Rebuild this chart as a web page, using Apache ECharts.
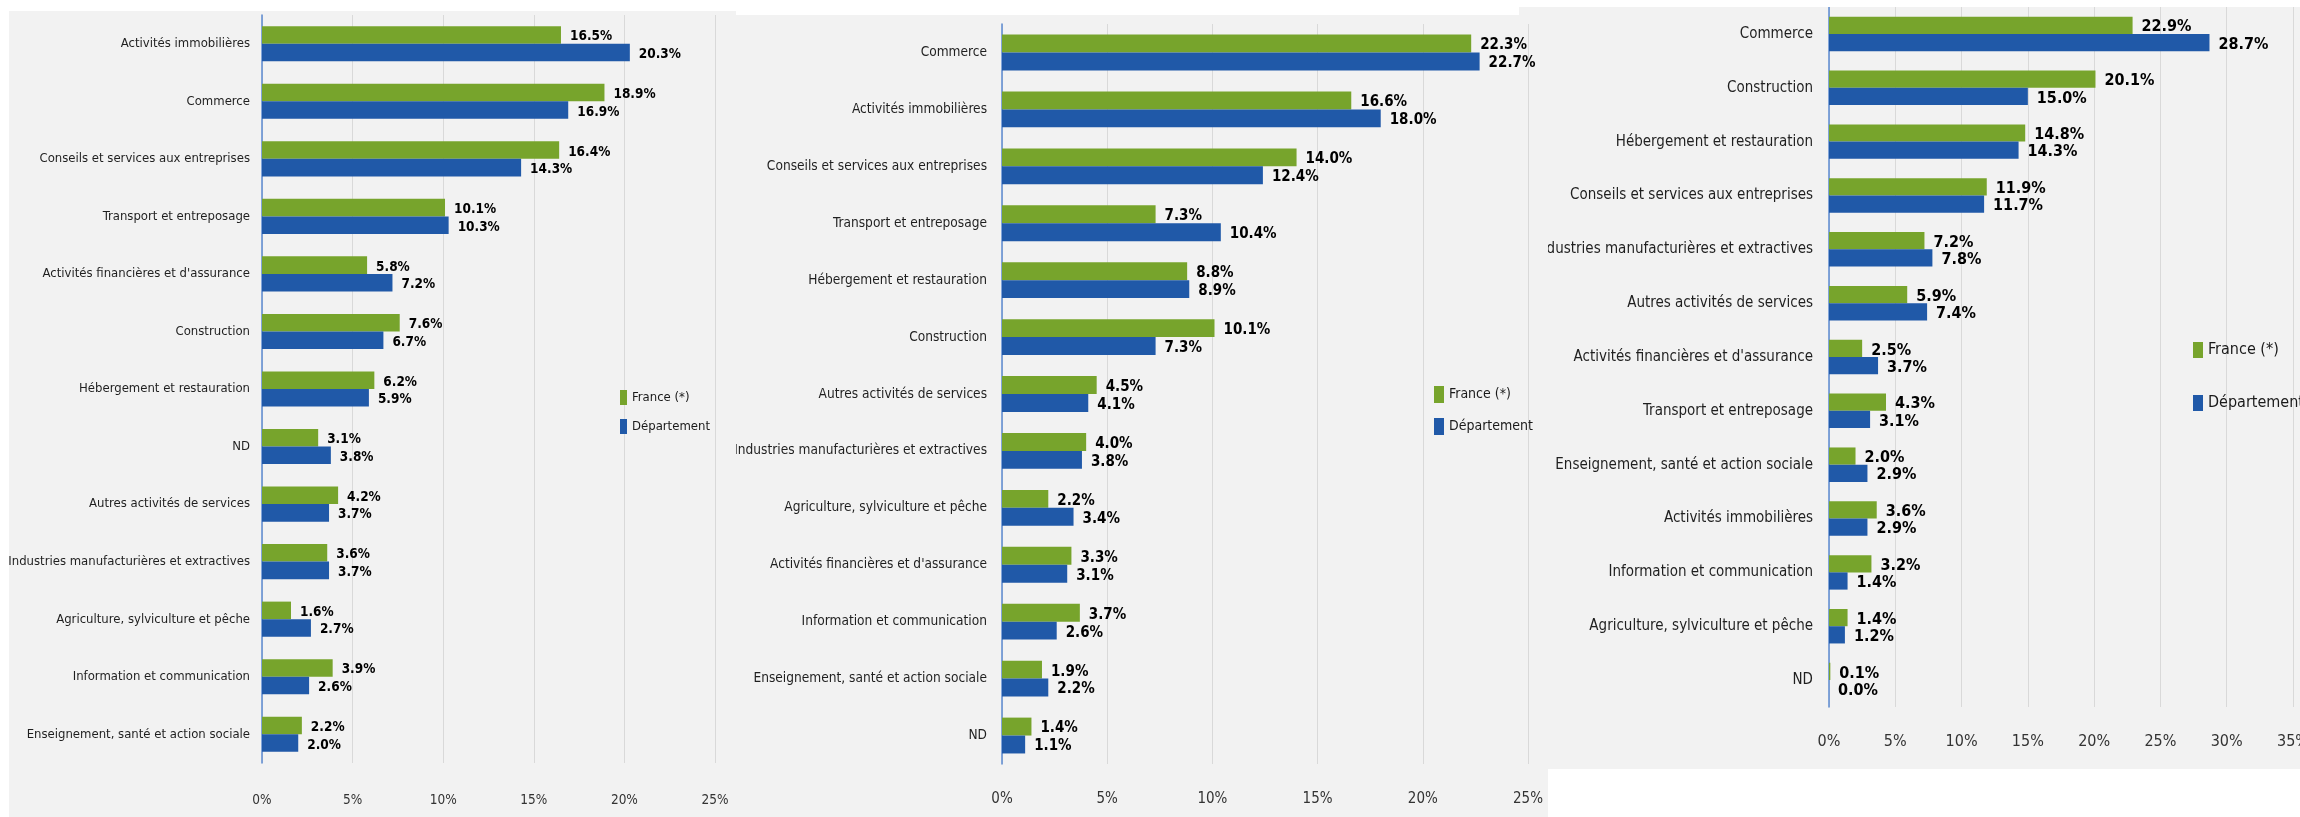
<!DOCTYPE html>
<html><head><meta charset="utf-8">
<script src="https://cdn.jsdelivr.net/npm/echarts@6/dist/echarts.min.js"></script>
<style>
html,body{margin:0;padding:0;background:#fff;width:2300px;height:817px;overflow:hidden;position:relative}
.bg{position:absolute;background:#f2f2f2}
.ch{position:absolute}
</style></head><body>
<div class="bg" style="left:1519px;top:7px;width:781px;height:762px"></div>
<div id="p1" class="ch bg" style="left:9px;top:11px;width:727px;height:806px"></div>
<div id="p2" class="ch bg" style="left:736px;top:15px;width:812px;height:802px"></div>
<div id="p3" class="ch" style="left:1548px;top:7px;width:752px;height:762px"></div>
<script>
const seriesNames = ['France (*)', 'Département'];

const cats1 = ['Activités immobilières','Commerce','Conseils et services aux entreprises','Transport et entreposage',"Activités financières et d'assurance",'Construction','Hébergement et restauration','ND','Autres activités de services','Industries manufacturières et extractives','Agriculture, sylviculture et pêche','Information et communication','Enseignement, santé et action sociale'];
const france1 = [16.5,18.9,16.4,10.1,5.8,7.6,6.2,3.1,4.2,3.6,1.6,3.9,2.2];
const dept1   = [20.3,16.9,14.3,10.3,7.2,6.7,5.9,3.8,3.7,3.7,2.7,2.6,2.0];

const cats2 = ['Commerce','Activités immobilières','Conseils et services aux entreprises','Transport et entreposage','Hébergement et restauration','Construction','Autres activités de services','Industries manufacturières et extractives','Agriculture, sylviculture et pêche',"Activités financières et d'assurance",'Information et communication','Enseignement, santé et action sociale','ND'];
const france2 = [22.3,16.6,14.0,7.3,8.8,10.1,4.5,4.0,2.2,3.3,3.7,1.9,1.4];
const dept2   = [22.7,18.0,12.4,10.4,8.9,7.3,4.1,3.8,3.4,3.1,2.6,2.2,1.1];

const cats3 = ['Commerce','Construction','Hébergement et restauration','Conseils et services aux entreprises','Industries manufacturières et extractives','Autres activités de services',"Activités financières et d'assurance",'Transport et entreposage','Enseignement, santé et action sociale','Activités immobilières','Information et communication','Agriculture, sylviculture et pêche','ND'];
const france3 = [22.9,20.1,14.8,11.9,7.2,5.9,2.5,4.3,2.0,3.6,3.2,1.4,0.1];
const dept3   = [28.7,15.0,14.3,11.7,7.8,7.4,3.7,3.1,2.9,2.9,1.4,1.2,0.0];

const GREEN = '#77a42c';
const BLUE = '#2059a8';
const FONT = '"Liberation Sans Narrow","Arial Narrow","DejaVu Sans Condensed",sans-serif';

function panel(id, c) {
  const chart = echarts.init(document.getElementById(id), null, {renderer: 'canvas'});
  const lab = {
    show: true, position: 'right', distance: 9, offset: [0, 2],
    formatter: p => p.value.toFixed(1) + '%',
    fontFamily: FONT, fontWeight: 'bold', fontSize: c.valFs, color: '#000'
  };
  chart.setOption({
    backgroundColor: 'transparent',
    animation: false,
    textStyle: {fontFamily: FONT},
    grid: {left: c.left, top: c.top, width: c.width, height: c.height,
           containLabel: false, outerBoundsMode: 'none'},
    legend: {
      orient: 'vertical', left: c.legLeft, top: c.legTop, itemWidth: c.iw, itemHeight: c.ih,
      itemGap: c.legGap, icon: 'rect', padding: 0,
      textStyle: {fontSize: c.legFs, color: '#1a1a1a', fontFamily: FONT},
      data: seriesNames
    },
    xAxis: {
      type: 'value', min: 0, max: c.max, interval: 5,
      axisLine: {show: false}, axisTick: {show: false},
      splitLine: {show: true, lineStyle: {color: '#d9d9d9', width: 1}},
      axisLabel: {formatter: '{value}%', fontSize: c.axFs, color: '#333', margin: c.axMargin, fontFamily: FONT}
    },
    yAxis: {
      type: 'category', inverse: true, data: c.cats,
      axisLine: {show: true, lineStyle: {color: '#5b8ad0', width: 1.5}},
      axisTick: {show: false}, splitLine: {show: false},
      axisLabel: {fontSize: c.catFs, color: '#1f1f1f', margin: c.catMargin, fontFamily: FONT}
    },
    series: [
      {name: seriesNames[0], type: 'bar', data: c.fr, barGap: '0%', barCategoryGap: c.gap,
       itemStyle: {color: GREEN}, label: lab},
      {name: seriesNames[1], type: 'bar', data: c.dp, barGap: '0%', barCategoryGap: c.gap,
       itemStyle: {color: BLUE}, label: lab}
    ]
  });
}

panel('p1', {cats: cats1, fr: france1, dp: dept1, max: 25,
  left: 253, top: 4, width: 453, height: 748, gap: '39%',
  catFs: 13, catMargin: 12, valFs: 13.5, axFs: 13.5, axMargin: 30,
  legLeft: 611, legTop: 379, iw: 7, ih: 15, legGap: 14, legFs: 13});

panel('p2', {cats: cats2, fr: france2, dp: dept2, max: 25,
  left: 266, top: 9, width: 526, height: 740, gap: '37%',
  catFs: 13.6, catMargin: 15, valFs: 15, axFs: 15, axMargin: 28,
  legLeft: 698, legTop: 371, iw: 10, ih: 17, legGap: 15, legFs: 14});

panel('p3', {cats: cats3, fr: france3, dp: dept3, max: 35,
  left: 281, top: 0, width: 464, height: 700, gap: '36%',
  catFs: 15, catMargin: 16, valFs: 16, axFs: 16, axMargin: 27,
  legLeft: 645, legTop: 335, iw: 10, ih: 16, legGap: 37, legFs: 16});
</script>
</body></html>
